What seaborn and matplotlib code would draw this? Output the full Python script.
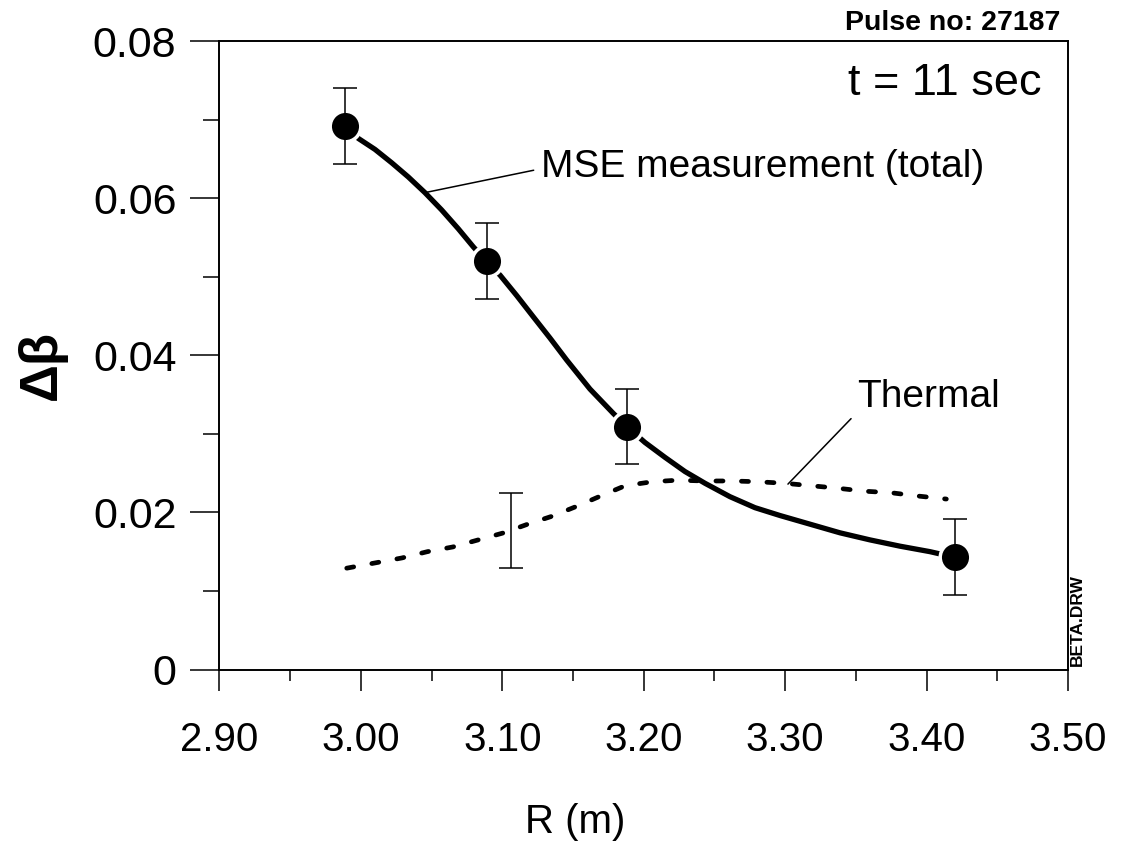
import matplotlib
matplotlib.use("Agg")
import matplotlib.pyplot as plt
import seaborn as sns
import pandas as pd
from matplotlib.ticker import FixedLocator, MultipleLocator

# ---------------- data ----------------
mse_r = [2.989, 3.089, 3.188, 3.420]
mse_beta = [0.0692, 0.0520, 0.0309, 0.0143]
mse_err = [0.0048, 0.0048, 0.0048, 0.0048]

mse_curve_r = [2.9888, 2.9982, 3.0100, 3.0218, 3.0335, 3.0453, 3.0571, 3.0689,
               3.0795, 3.0885, 3.0984, 3.1102, 3.1219, 3.1337, 3.1455, 3.1620,
               3.1785, 3.1882, 3.2009, 3.2151, 3.2292, 3.2434, 3.2610, 3.2787,
               3.2964, 3.3176, 3.3388, 3.3600, 3.3812, 3.4025, 3.4195]
mse_curve_beta = [0.0692, 0.0676, 0.0662, 0.0645, 0.0627, 0.0607, 0.0585, 0.0561,
                  0.0538, 0.0520, 0.0502, 0.0476, 0.0449, 0.0422, 0.0394, 0.0357,
                  0.0326, 0.0309, 0.0289, 0.0270, 0.0252, 0.0237, 0.0220, 0.0206,
                  0.0196, 0.0185, 0.0174, 0.0165, 0.0157, 0.0150, 0.0143]

thermal_r = [2.990, 3.011, 3.029, 3.047, 3.065, 3.083, 3.101, 3.118, 3.135, 3.153,
             3.171, 3.187, 3.206, 3.224, 3.243, 3.263, 3.281, 3.300, 3.318, 3.336,
             3.356, 3.375, 3.393, 3.414]
thermal_beta = [0.0129, 0.0136, 0.0142, 0.0150, 0.0156, 0.0165, 0.0174, 0.0185,
                0.0195, 0.0208, 0.0222, 0.0234, 0.0239, 0.0241, 0.0240, 0.0240,
                0.0239, 0.0237, 0.0234, 0.0231, 0.0227, 0.0225, 0.0221, 0.0217]

thermal_err_r = [3.106]
thermal_err_beta = [0.0177]
thermal_err = [0.0048]

x_ticks = [2.90, 3.00, 3.10, 3.20, 3.30, 3.40, 3.50]
x_tick_labels = ["2.90", "3.00", "3.10", "3.20", "3.30", "3.40", "3.50"]
y_ticks = [0.0, 0.02, 0.04, 0.06, 0.08]
y_tick_labels = ["0", "0.02", "0.04", "0.06", "0.08"]

x_label = "R (m)"
y_label = "Δβ"
mse_label = "MSE measurement (total)"
thermal_label = "Thermal"
time_label = "t = 11 sec"
pulse_label = "Pulse no: 27187"
file_label = "BETA.DRW"

# ---------------- style ----------------
sns.set_theme(style="ticks")
plt.rcParams["font.family"] = ["Liberation Sans", "DejaVu Sans"]
plt.rcParams["axes.linewidth"] = 1.4
plt.rcParams["text.color"] = "black"
plt.rcParams["axes.labelcolor"] = "black"
plt.rcParams["xtick.color"] = "black"
plt.rcParams["ytick.color"] = "black"

fig = plt.figure(figsize=(11.4, 8.49), dpi=100)
ax = fig.add_axes([0.1925, 0.2114, 0.7443, 0.7403])

curve_df = pd.DataFrame({"R": mse_curve_r, "beta": mse_curve_beta})
thermal_df = pd.DataFrame({"R": thermal_r, "beta": thermal_beta})
pts_df = pd.DataFrame({"R": mse_r, "beta": mse_beta})

sns.lineplot(data=curve_df, x="R", y="beta", ax=ax, color="black", lw=3.8,
             sort=False, estimator=None, zorder=2, solid_capstyle="round",
             solid_joinstyle="round")
sns.lineplot(data=thermal_df, x="R", y="beta", ax=ax, color="black", lw=3.4,
             sort=False, estimator=None, zorder=2,
             linestyle=(0, (1.5, 3.9)), dash_capstyle="round")

sns.scatterplot(data=pts_df, x="R", y="beta", ax=ax, color="black", s=484,
                edgecolor="white", linewidth=2.5, zorder=3)

ax.errorbar(mse_r, mse_beta, yerr=mse_err, fmt="none", ecolor="black",
            elinewidth=1.1, capsize=8.6, capthick=1.1, zorder=4)
ax.errorbar(thermal_err_r, thermal_err_beta, yerr=thermal_err, fmt="none",
            ecolor="black", elinewidth=1.1, capsize=8.6, capthick=1.1, zorder=4)

# annotations
ax.annotate(mse_label, xy=(3.0453, 0.0607), xytext=(3.1274, 0.0627),
            fontsize=28, ha="left", va="baseline", color="black",
            arrowprops=dict(arrowstyle="-", lw=1.1, color="black",
                            relpos=(0, 0.45), shrinkA=3, shrinkB=0))
ax.annotate(thermal_label, xy=(3.302, 0.0236), xytext=(3.351, 0.0334),
            fontsize=28, ha="left", va="baseline", color="black",
            arrowprops=dict(arrowstyle="-", lw=1.1, color="black",
                            relpos=(0, 0.08), shrinkA=3, shrinkB=0))

ax.text(0.969, 0.914, time_label, transform=ax.transAxes, fontsize=32.5,
        ha="right", va="baseline", color="black")
fig.text(0.930, 0.9647, pulse_label, fontsize=20.5, fontweight="bold",
         ha="right", va="baseline", color="black")
fig.text(0.9455, 0.2155, file_label, fontsize=12.5, fontweight="bold",
         rotation=90, ha="center", va="bottom", color="black")

# axes
ax.set_xlim(2.90, 3.50)
ax.set_ylim(0, 0.08)
ax.xaxis.set_major_locator(FixedLocator(x_ticks))
ax.set_xticklabels(x_tick_labels)
ax.xaxis.set_minor_locator(MultipleLocator(0.05))
ax.yaxis.set_major_locator(FixedLocator(y_ticks))
ax.set_yticklabels(y_tick_labels)
ax.yaxis.set_minor_locator(MultipleLocator(0.01))

ax.tick_params(axis="x", which="major", length=15, width=1.1, direction="out",
               pad=22, labelsize=29, colors="black")
ax.tick_params(axis="x", which="minor", length=8, width=1.1, direction="out")
ax.tick_params(axis="y", which="major", length=21, width=1.1, direction="out",
               pad=10, labelsize=31, colors="black")
ax.tick_params(axis="y", which="minor", length=11.5, width=1.1, direction="out")

ax.set_xlabel(x_label, fontsize=29, color="black")
ax.set_ylabel(y_label, fontsize=38, fontweight="bold", color="black")
ax.xaxis.set_label_coords(0.419, -0.213)
ax.yaxis.set_label_coords(-0.180, 0.4845)
ax.grid(False)
for s in ax.spines.values():
    s.set_color("black")
    s.set_linewidth(1.4)

fig.savefig("out.png", dpi=100, facecolor="white")
